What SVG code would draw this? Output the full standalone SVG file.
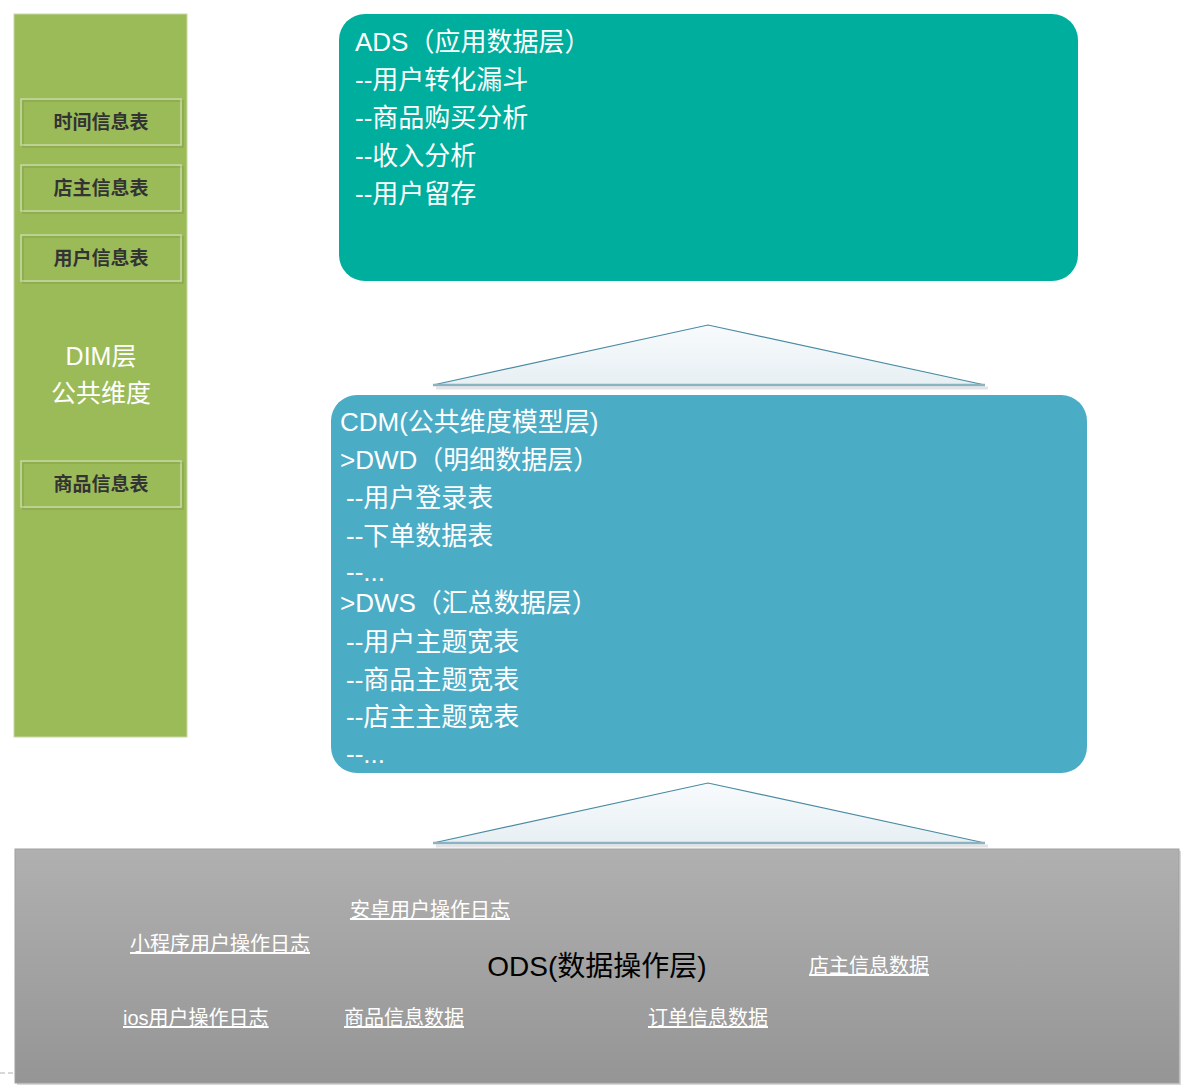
<svg xmlns="http://www.w3.org/2000/svg" width="1184" height="1090" viewBox="0 0 1184 1090">
<defs>
<linearGradient id="odsGrad" x1="0" y1="0" x2="0" y2="1">
<stop offset="0" stop-color="#b0b0b0"/>
<stop offset="1" stop-color="#959595"/>
</linearGradient>
<linearGradient id="triGrad" x1="0" y1="0" x2="0" y2="1">
<stop offset="0" stop-color="#f8fbfd"/>
<stop offset="1" stop-color="#e7eff3"/>
</linearGradient>
<style>
text{font-family:"Liberation Sans","Noto Sans CJK SC",sans-serif;}
.w{fill:#ffffff;font-size:26px;}
.dimt{fill:#ffffff;font-size:25px;text-anchor:middle;}
.dimbox{fill:none;stroke:#ffffff;stroke-opacity:0.45;stroke-width:1.5;}
.dimsh{fill:none;stroke:#6f8a3a;stroke-opacity:0.35;stroke-width:1.5;}
.dimlbl{fill:#333333;font-size:19px;font-weight:bold;text-anchor:middle;}
.ul{fill:#ffffff;font-size:20px;text-decoration:underline;}
.tri{fill:url(#triGrad);stroke:#4a8ba2;stroke-width:1.2;}
.base{stroke:#8db3c3;stroke-width:2.5;}
.baseSh{stroke:#e3e3e3;stroke-width:3;}
</style>
</defs>
<rect width="1184" height="1090" fill="#ffffff"/>
<line x1="0" y1="1073" x2="1184" y2="1073" stroke="#b0b0b0" stroke-width="1" stroke-dasharray="5,3"/>

<g id="dim">
<rect x="14" y="14" width="173" height="723" fill="#9bbb59" stroke="#c7d9a2" stroke-width="1"/>
<g id="dim-time">
<rect x="23" y="101" width="160" height="46" class="dimsh"/>
<rect x="21" y="99" width="160" height="46" class="dimbox"/>
<text x="101" y="129" class="dimlbl">时间信息表</text>
</g>
<g id="dim-shop">
<rect x="23" y="167" width="160" height="46" class="dimsh"/>
<rect x="21" y="165" width="160" height="46" class="dimbox"/>
<text x="101" y="195" class="dimlbl">店主信息表</text>
</g>
<g id="dim-user">
<rect x="23" y="237" width="160" height="46" class="dimsh"/>
<rect x="21" y="235" width="160" height="46" class="dimbox"/>
<text x="101" y="265" class="dimlbl">用户信息表</text>
</g>
<text x="101" y="365" class="dimt">DIM层</text>
<text x="101" y="402" class="dimt">公共维度</text>
<g id="dim-goods">
<rect x="23" y="463" width="160" height="46" class="dimsh"/>
<rect x="21" y="461" width="160" height="46" class="dimbox"/>
<text x="101" y="491" class="dimlbl">商品信息表</text>
</g>
</g>

<g id="ads">
<rect x="339" y="14" width="739" height="267" rx="26" ry="26" fill="#00ae9d"/>
<text class="w" x="355" y="51">ADS（应用数据层）</text>
<text class="w" x="355" y="89">--用户转化漏斗</text>
<text class="w" x="355" y="127">--商品购买分析</text>
<text class="w" x="355" y="165">--收入分析</text>
<text class="w" x="355" y="203">--用户留存</text>
</g>

<g id="cdm">
<rect x="331" y="395" width="756" height="378" rx="26" ry="26" fill="#4bacc6"/>
<text class="w" x="340" y="431">CDM(公共维度模型层)</text>
<text class="w" x="340" y="469">&gt;DWD（明细数据层）</text>
<text class="w" x="346" y="507">--用户登录表</text>
<text class="w" x="346" y="545">--下单数据表</text>
<text class="w" x="346" y="581">--...</text>
<text class="w" x="340" y="612">&gt;DWS（汇总数据层）</text>
<text class="w" x="346" y="651">--用户主题宽表</text>
<text class="w" x="346" y="689">--商品主题宽表</text>
<text class="w" x="346" y="726">--店主主题宽表</text>
<text class="w" x="346" y="763">--...</text>
</g>

<g id="ods">
<rect x="17" y="851" width="1164" height="234" fill="#d8d8d8"/>
<rect x="15" y="849" width="1164" height="234" fill="url(#odsGrad)" stroke="#a0a0a0" stroke-width="1"/>
<text x="597" y="976" font-size="28" fill="#000000" text-anchor="middle">ODS(数据操作层)</text>
<text class="ul" x="350" y="917">安卓用户操作日志</text>
<text class="ul" x="130" y="951">小程序用户操作日志</text>
<text class="ul" x="809" y="973">店主信息数据</text>
<text class="ul" x="123" y="1025">ios用户操作日志</text>
<text class="ul" x="344" y="1025">商品信息数据</text>
<text class="ul" x="648" y="1025">订单信息数据</text>
</g>

<g id="connectors">
<g id="arrow-cdm-ads">
<line x1="436" y1="388" x2="988" y2="388" class="baseSh"/>
<polygon points="433,385 708,325 985,385" class="tri"/>
<line x1="433" y1="385" x2="985" y2="385" class="base"/>
</g>
<g id="arrow-ods-cdm">
<line x1="436" y1="846" x2="988" y2="846" class="baseSh"/>
<polygon points="433,843 708,783 985,843" class="tri"/>
<line x1="433" y1="843" x2="985" y2="843" class="base"/>
</g>
</g>
</svg>
